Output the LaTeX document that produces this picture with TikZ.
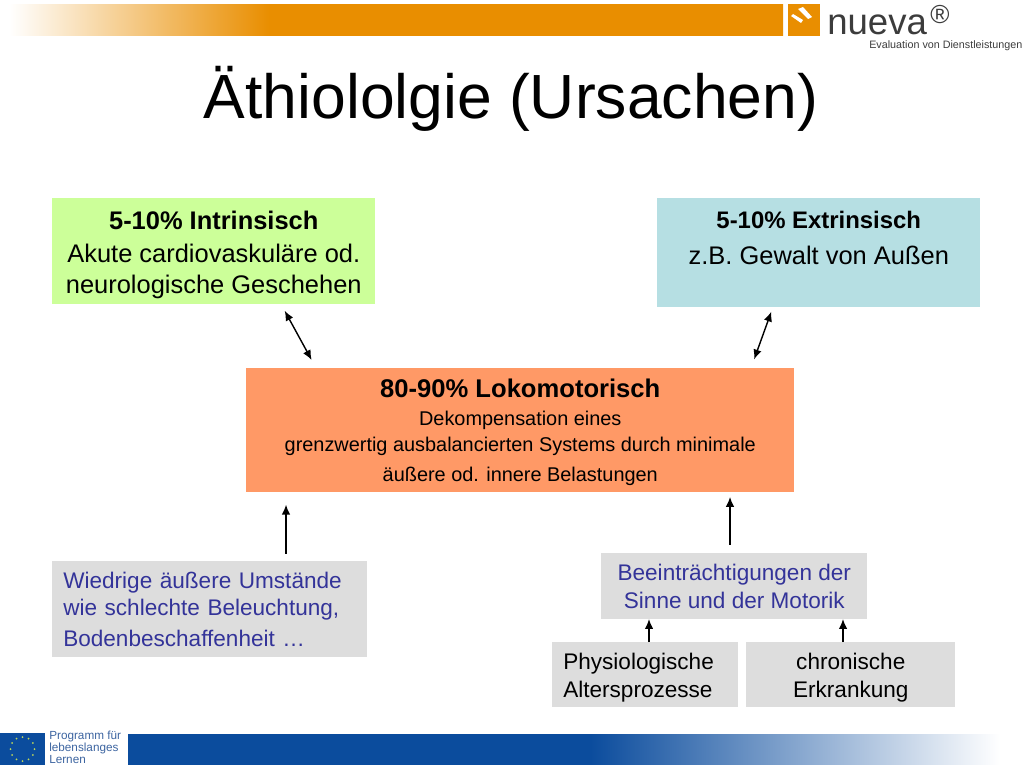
\documentclass[tikz,border=0pt]{standalone}
\usepackage{fontspec}
\setmainfont{Liberation Sans}
\usepackage{tikz}
\usetikzlibrary{arrows,arrows.meta,positioning,calc,shapes.geometric}
\definecolor{bandorange}{RGB}{233,142,0}
\definecolor{bandblue}{RGB}{11,76,157}
\definecolor{intrgreen}{RGB}{204,255,153}
\definecolor{extrblue}{RGB}{182,223,227}
\definecolor{lokoorange}{RGB}{255,153,102}
\definecolor{boxgray}{RGB}{221,221,221}
\definecolor{textblue}{RGB}{51,51,153}
\definecolor{logotext}{RGB}{60,60,60}
\definecolor{eugreen}{RGB}{190,215,90}
\definecolor{eutext}{RGB}{60,100,160}
\pgfdeclarehorizontalshading{topband}{100bp}{color(0bp)=(white); color(25.6bp)=(white); color(42.2bp)=(bandorange); color(100bp)=(bandorange)}
\pgfdeclarehorizontalshading{lowband}{100bp}{color(0bp)=(bandblue); color(51.5bp)=(bandblue); color(75bp)=(white); color(100bp)=(white)}
\newcommand{\topgap}[1]{\rule{0pt}{#1}}
\tikzset{
  box/.style={anchor=north west,inner sep=0pt,align=center},
  bigtext/.style={font=\fontsize{18.1}{18.1}\selectfont},
  midtext/.style={font=\fontsize{16.05}{19.6}\selectfont},
  dbl/.style={{Latex[length=7pt,width=6pt]}-{Latex[length=7pt,width=6pt]},line width=1pt,shorten <=5.5pt,shorten >=6.5pt},
  single/.style={-{Latex[length=7pt,width=6pt]},line width=1pt},
}
\begin{document}
\begin{tikzpicture}[x=0.025cm,y=-0.025cm]
      \useasboundingbox (0,0) rectangle (1024,768);

      % bands
      \shade[shading=topband] (0,4.5) rectangle (783,36);
      \fill[bandorange] (788,4) rectangle (820,36);
      \fill[white] (791,16) -- (793,14) -- (803,20) -- (801,23) -- cycle;
      \fill[white] (798,9) -- (803,7) -- (812,17) -- (808,19) -- cycle;
      \shade[shading=lowband] (128,734) rectangle (1000,764.5);
      \fill[bandblue] (0,733) rectangle (45,765);
      \foreach \a in {0,30,...,330}
        \fill[eugreen] ($(22.5,749)+(\a:12)$) circle (1);

      % logo
      \node[anchor=base west,inner sep=0pt,text=logotext,font=\fontsize{26}{26}\selectfont] (nueva) at (827,35) {nueva};
      \node[anchor=base west,inner sep=0pt,text=logotext,font=\fontsize{18.5}{18.5}\selectfont] (reg) at (930,24) {®};
      \node[anchor=west,inner sep=0pt,text=logotext,font=\fontsize{7.65}{7.65}\selectfont] (eval) at (869,46) {Evaluation von Dienstleistungen};
      \node[anchor=north west,inner sep=0pt,align=left,text=eutext,font=\fontsize{8.35}{8.5}\selectfont] (prog) at (49,731)
        {Programm für\\lebenslanges\\Lernen};

      % title
      \node[inner sep=0pt,font=\fontsize{44.4}{44.4}\selectfont] (title) at (511,99) {Äthiololgie (Ursachen)};

      % boxes
      \node[box,bigtext,fill=intrgreen,minimum width=323*0.025cm,minimum height=106*0.025cm] (intr) at (52,198)
        {\topgap{18pt}\textbf{5-10\% Intrinsisch}\\[5.5pt]
         Akute cardiovaskuläre od.\\[4.1pt]neurologische Geschehen};
      \node[box,bigtext,fill=extrblue,minimum width=323*0.025cm,minimum height=109*0.025cm] (extr) at (657,198)
        {{\fontsize{17}{17}\selectfont\textbf{5-10\% Extrinsisch}}\\[7pt]
         z.B. Gewalt von Außen\\[3.3pt]\mbox{}};
      \node[box,font=\fontsize{14.15}{14.15}\selectfont,fill=lokoorange,minimum width=548*0.025cm,minimum height=124*0.025cm] (loko) at (246,368)
        {\topgap{16pt}{\fontsize{18.2}{18.2}\selectfont\textbf{80-90\% Lokomotorisch}}\\[5.8pt]
         Dekompensation eines\\[4.5pt]
         grenzwertig ausbalancierten Systems durch minimale\\[7pt]
         äußere od. innere Belastungen};
      \node[box,midtext,align=left,fill=boxgray,text=textblue,inner xsep=11*0.025cm,text width=293*0.025cm,minimum height=96*0.025cm] (umst) at (52,561)
        {Wiedrige äußere Umstände\\wie schlechte Beleuchtung,\\[2pt]Bodenbeschaffenheit …};
      \node[box,midtext,fill=boxgray,text=textblue,minimum width=266*0.025cm,minimum height=66*0.025cm] (sinne) at (601,553)
        {Beeinträchtigungen der\\Sinne und der Motorik};
      \node[box,midtext,align=left,fill=boxgray,inner xsep=11*0.025cm,text width=164*0.025cm,minimum height=65*0.025cm] (phys) at (552,642)
        {\topgap{16pt}Physiologische\\Altersprozesse};
      \node[box,midtext,fill=boxgray,minimum width=209*0.025cm,minimum height=65*0.025cm] (chron) at (746,642)
        {\topgap{16pt}chronische\\Erkrankung};

      % free ends on the box edges
      \coordinate (i1) at (281,304);
      \coordinate (l1) at (316,368);
      \coordinate (e1) at (773,307);
      \coordinate (l2) at (751,368);
      \coordinate (l3) at (286,492);
      \coordinate (u1) at (286,561);
      \coordinate (l4) at (730,492);
      \coordinate (s1) at (730,553);
      \coordinate (s2) at (649,619);
      \coordinate (p1) at (649,642);
      \coordinate (s3) at (843,619);
      \coordinate (c1) at (843,642);

      \draw[dbl] (i1) -- (l1);
      \draw[dbl,shorten <=3.5pt] (e1) -- (l2);
      \draw[single,shorten <=5pt,shorten >=9pt] (u1) -- (l3);
      \draw[single,shorten <=6pt,shorten >=3.5pt] (s1) -- (l4);
      \draw[single] (p1) -- (s2);
      \draw[single] (c1) -- (s3);
    \end{tikzpicture}
\end{document}
